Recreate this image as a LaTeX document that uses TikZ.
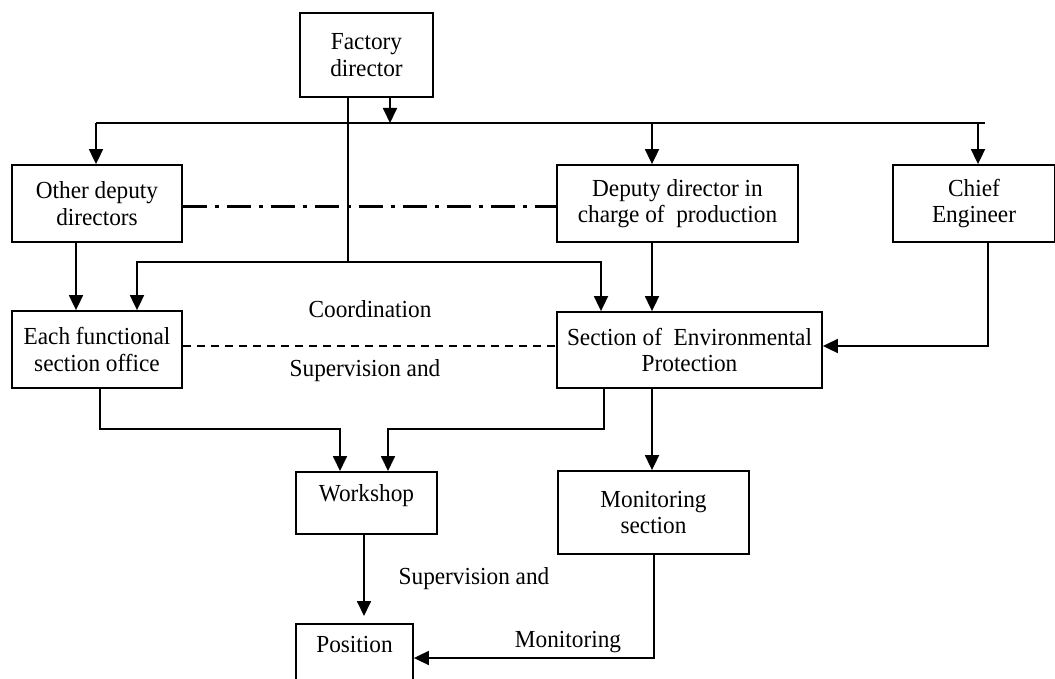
\documentclass[tikz,border=0pt]{standalone}
\usepackage{fontspec}
\setmainfont[FakeStretch=0.95]{Liberation Serif}
\usetikzlibrary{arrows.meta}
\begin{document}
\begin{tikzpicture}[x=1pt,y=-1pt,
  box/.style={draw,line width=1.8pt,inner sep=0pt,align=center,
    font=\fontsize{24.5}{26.5}\selectfont},
  lbl/.style={inner sep=0pt,font=\fontsize{24.5}{26.5}\selectfont},
  conn/.style={line width=1.8pt},
  arr/.style={conn,-{Triangle[length=15pt,width=14pt]}},
  dashdot/.style={line width=3pt,dash pattern=on 24pt off 8pt on 4pt off 8pt},
  dashline/.style={line width=1.5pt,dash pattern=on 8pt off 6pt}]
\useasboundingbox (0,0) rectangle (1055,679);
\clip (0,0) rectangle (1055,679);

% organisation boxes
\node[box,minimum width=133pt,minimum height=84pt] (fd) at (366.5,55) {Factory\\director};
\node[box,minimum width=170pt,minimum height=77pt] (odd) at (97,203.5) {Other deputy\\directors};
\node[box,minimum width=241pt,minimum height=77pt] (ddp) at (677.5,203.5) {Deputy director in\\charge of~ production};
\node[box,minimum width=162pt,minimum height=77pt] (ce) at (974,203.5) {Chief\\Engineer};
\node[box,minimum width=170pt,minimum height=77pt] (efs) at (97,349.5) {Each functional\\section office};
\node[box,minimum width=265pt,minimum height=76pt] (sep) at (689.5,350) {Section of~ Environmental\\Protection};
\node[box,minimum width=141pt,minimum height=62pt,anchor=north] (ws) at (366.5,471) {};
\node[lbl] (wst) at (366.5,496) {Workshop};
\node[box,minimum width=191pt,minimum height=83pt] (ms) at (653.5,512.5) {Monitoring\\section};
\node[box,minimum width=117pt,minimum height=90pt,anchor=north] (pos) at (354.5,623) {};
\node[lbl] (post) at (354.5,645) {Position};

% relation labels
\node[lbl] (coord) at (370,309) {Coordination};
\node[lbl] (sup1) at (365,371) {Supervision and};
\node[lbl] (sup2) at (474,579) {Supervision and};
\node[lbl] (mon) at (568,642) {Monitoring};

% junction points
\coordinate (busL) at (96,123);
\coordinate (busR) at (985,123);
\coordinate (busM) at (348,262);

% factory director to the deputies and the chief engineer
\draw[arr] (fd.south -| 390,0) -- (390,123);
\draw[conn] (busL) -- (busR);
\draw[arr] (busL) -- (odd.north -| busL);
\draw[arr] (652,123) -- (ddp.north -| 652,0);
\draw[arr] (978,123) -- (ce.north -| 978,0);

% factory director to the functional offices and the section
\draw[conn] (fd.south -| busM) -- (busM);
\draw[arr] (busM) -- (137,262) -- (efs.north -| 137,0);
\draw[arr] (busM) -- (601,262) -- (sep.north -| 601,0);

% deputies downwards
\draw[arr] (odd.south -| 76,0) -- (efs.north -| 76,0);
\draw[arr] (ddp.south -| 652,0) -- (sep.north -| 652,0);
\draw[arr] (ce.south -| 988,0) -- (988,346) -- (sep.east |- 988,346);

% coordination links
\draw[dashdot] (odd.east |- 0,207) -- (ddp.west |- 0,207);
\draw[dashline] (efs.east |- 0,346) -- (sep.west |- 0,346);

% to the workshop and monitoring
\draw[arr] (efs.south -| 100,0) -- (100,429) -- (340,429) -- (ws.north -| 340,0);
\draw[arr] (sep.south -| 604,0) -- (604,429) -- (388,429) -- (ws.north -| 388,0);
\draw[arr] (sep.south -| 652,0) -- (ms.north -| 652,0);

% to the position
\draw[arr] (ws.south -| 364,0) -- (364,616);
\draw[arr] (ms.south -| 654,0) -- (654,658) -- (pos.east |- 0,658);
\end{tikzpicture}
\end{document}
